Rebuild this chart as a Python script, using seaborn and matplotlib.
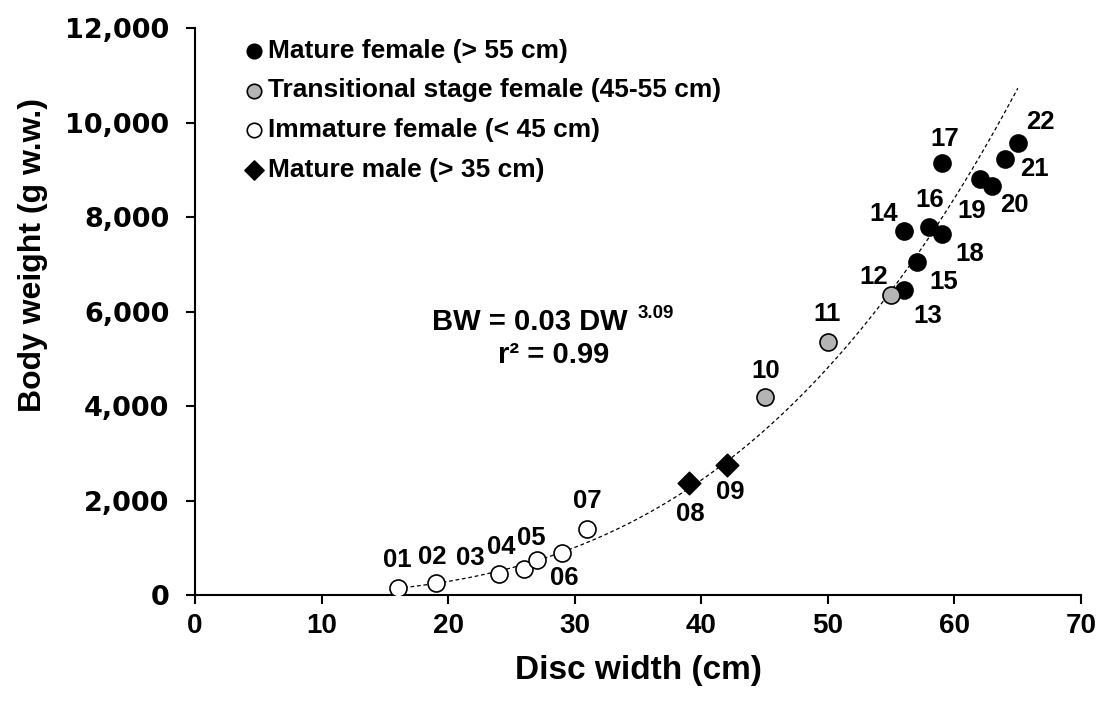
import numpy as np
import pandas as pd
import matplotlib
matplotlib.use("Agg")
import matplotlib.pyplot as plt
import seaborn as sns

# Data
ids = ["01", "02", "03", "04", "05", "06", "07", "08", "09", "10", "11",
       "12", "13", "14", "15", "16", "17", "18", "19", "20", "21", "22"]
disc_width = [16, 19, 24, 26, 27, 29, 31, 39, 42, 45, 50,
              55, 56, 56, 57, 58, 59, 59, 62, 63, 64, 65]
body_weight = [150, 250, 450, 550, 750, 900, 1400, 2370, 2750, 4200, 5350,
               6350, 6450, 7700, 7050, 7800, 9150, 7650, 8800, 8650, 9230, 9570]
stage = (["immature"] * 7 + ["male"] * 2 + ["transitional"] * 3 + ["mature"] * 10)

group_labels = {
    "mature": "Mature female (> 55 cm)",
    "transitional": "Transitional stage female (45-55 cm)",
    "immature": "Immature female (< 45 cm)",
    "male": "Mature male (> 35 cm)",
}

# label offsets in pixels (dx, dy)
label_offsets = [(0, 28), (-3, 26), (-29, 16), (-23, 22), (-5, 22), (2, -25), (0, 28),
                 (2, -31), (4, -27), (1, 26), (-1, 28), (-18, 18), (24, -26),
                 (-20, 17), (27, -20), (1, 27), (3, 24), (28, -20), (-8, -32),
                 (22, -19), (29, -10), (23, 21)]

df = pd.DataFrame({"id": ids, "DW": disc_width, "BW": body_weight, "stage": stage})

sns.set_style("ticks")
plt.rcParams["font.family"] = ["Liberation Sans", "DejaVu Sans"]
plt.rcParams["font.weight"] = "bold"
for k in ["text.color", "axes.labelcolor", "xtick.color", "ytick.color"]:
    plt.rcParams[k] = "black"

fig = plt.figure(figsize=(11.02, 7.02), dpi=100)
ax = fig.add_axes([0.177, 0.152, 0.804, 0.808])

# power-law trend line fitted on log-log
b, log_a = np.polyfit(np.log(df["DW"]), np.log(df["BW"]), 1)
xs = np.linspace(min(disc_width), max(disc_width), 200)
trend = pd.DataFrame({"DW": xs, "BW": np.exp(log_a) * xs ** b})
sns.lineplot(data=trend, x="DW", y="BW", ax=ax, color="black", lw=0.9,
             linestyle=(0, (3, 2.2)), legend=False)

styles = {
    "mature": dict(color="black", marker="o", s=150),
    "transitional": dict(color="#b4b4b4", marker="o", s=150),
    "immature": dict(color="white", marker="o", s=150),
    "male": dict(color="black", marker="D", s=130),
}
for key in ["mature", "transitional", "immature", "male"]:
    sub = df[df["stage"] == key]
    sns.scatterplot(data=sub, x="DW", y="BW", ax=ax, edgecolor="black",
                    linewidth=1.2, label=group_labels[key], zorder=3, **styles[key])

for i, row in df.iterrows():
    dx, dy = label_offsets[i]
    ax.annotate(row["id"], (row["DW"], row["BW"]), xytext=(dx, dy),
                textcoords="offset pixels", ha="center", va="center",
                fontsize=18.5, fontweight="bold")

ax.set_xlim(0, 70)
ax.set_ylim(0, 12000)
ax.set_xticks(range(0, 71, 10))
ax.set_yticks(range(0, 12001, 2000))
ax.set_yticklabels([f"{v:,}" for v in range(0, 12001, 2000)],
                   family="DejaVu Sans", fontsize=19.5, fontweight="bold")
ax.set_xticklabels([str(v) for v in range(0, 71, 10)],
                   fontsize=20, fontweight="bold")
ax.tick_params(axis="both", direction="out", length=6.5, width=1.5, color="black")
ax.tick_params(axis="x", pad=6)
ax.tick_params(axis="y", pad=12)
for s in ["left", "bottom"]:
    ax.spines[s].set_linewidth(1.5)
    ax.spines[s].set_color("black")
sns.despine(ax=ax)

ax.set_xlabel("Disc width (cm)", fontsize=24, fontweight="bold")
ax.set_ylabel("Body weight (g w.w.)", fontsize=23, fontweight="bold")
ax.xaxis.set_label_coords(0.5, -0.106)
ax.yaxis.set_label_coords(-0.166, 0.60)

ax.text(0.378, 0.481, "BW = 0.03 DW", transform=ax.transAxes, ha="center",
        va="center", fontsize=21, fontweight="bold")
ax.text(0.500, 0.496, "3.09", transform=ax.transAxes, ha="left",
        va="center", fontsize=13.5, fontweight="bold")
ax.text(0.405, 0.423, "r\u00b2 = 0.99", transform=ax.transAxes, ha="center",
        va="center", fontsize=21, fontweight="bold")

ax.legend(loc="upper left", bbox_to_anchor=(0.047, 1.0), frameon=False,
          fontsize=19, handlelength=0.5, handletextpad=0.3, labelspacing=0.6,
          markerscale=0.85, borderaxespad=0.0)

fig.savefig("out.png", dpi=100)
